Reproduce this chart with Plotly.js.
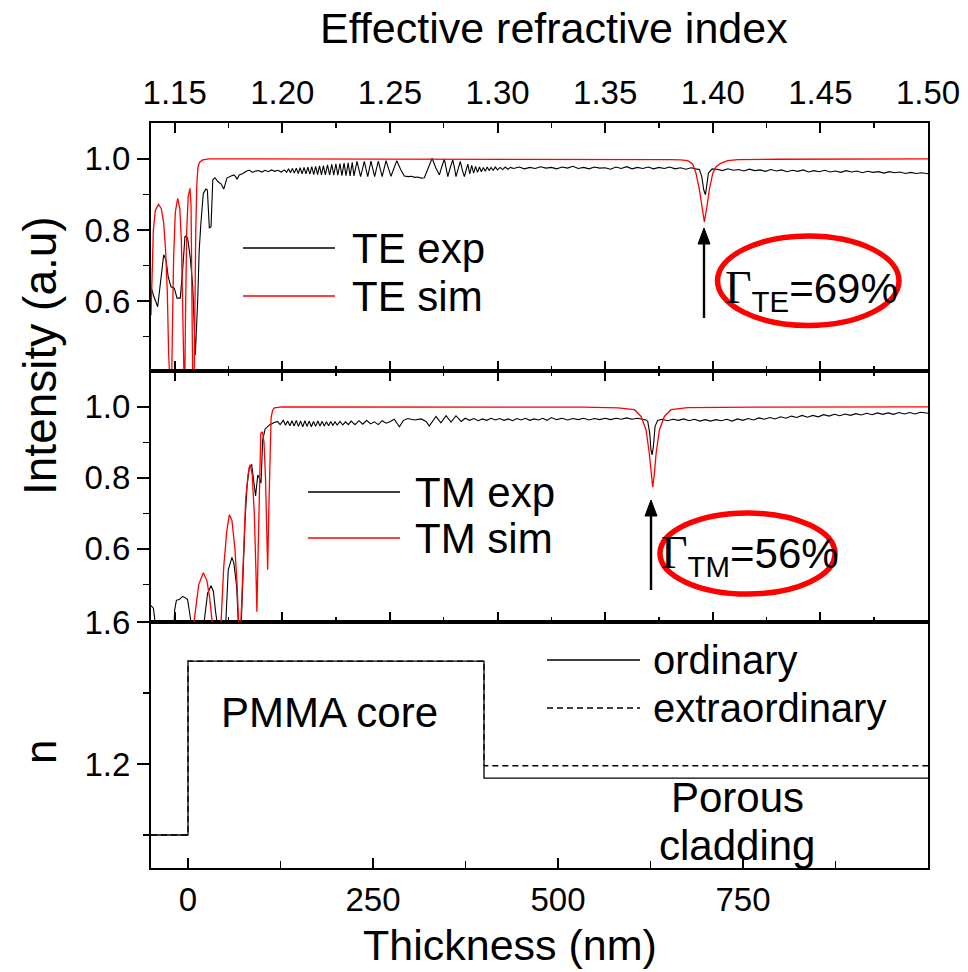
<!DOCTYPE html>
<html>
<head>
<meta charset="utf-8">
<script src="https://cdn.plot.ly/plotly-3.0.1.min.js"></script>
<style>html,body{margin:0;padding:0;background:#fff;}#chart{width:968px;height:972px;}</style>
</head>
<body>
<div id="chart"></div>
<script>
// ---------------- DATA ----------------
const neffTickVals = [1.15, 1.20, 1.25, 1.30, 1.35, 1.40, 1.45, 1.50];
const neffTickText = ['1.15', '1.20', '1.25', '1.30', '1.35', '1.40', '1.45', '1.50'];
const thickTickVals = [0, 250, 500, 750];
const thickTickText = ['0', '250', '500', '750'];
const intTickVals = [0.6, 0.8, 1.0];
const intTickText = ['0.6', '0.8', '1.0'];
const nTickVals = [1.2, 1.6];
const nTickText = ['1.2', '1.6'];

// TE experimental [n_eff, intensity]
const teExp = [
[1.1390,0.640],[1.1401,0.617],[1.1421,0.584],[1.1436,0.659],[1.1449,0.730],[1.1460,0.715],[1.1470,0.668],[1.1483,0.640],
[1.1498,0.636],[1.1511,0.608],[1.1526,0.608],[1.1537,0.687],[1.1548,0.783],[1.1560,0.777],[1.1572,0.725],[1.1584,0.640],
[1.1596,0.448],[1.1607,0.603],[1.1614,0.744],[1.1622,0.820],[1.1633,0.903],[1.1645,0.915],[1.1652,0.912],[1.1661,0.805],
[1.1669,0.810],[1.1677,0.941],[1.1687,0.947],[1.1703,0.935],[1.1715,0.930],[1.1728,0.915],[1.1743,0.946],[1.1762,0.952],
[1.1775,0.955],[1.1783,0.950],[1.1790,0.943],[1.1800,0.955],[1.1815,0.958],[1.1834,0.966],[1.1848,0.968],[1.1862,0.962],
[1.1875,0.966],[1.1890,0.967],[1.1905,0.963],[1.1920,0.968],[1.1935,0.964],[1.1950,0.969],[1.1965,0.965],[1.1980,0.968],
[1.1995,0.963],[1.2010,0.969],[1.2020,0.962],[1.2029,0.972],[1.2038,0.961],[1.2047,0.973],[1.2056,0.960],[1.2065,0.974],
[1.2074,0.959],[1.2083,0.975],[1.2092,0.958],[1.2101,0.976],[1.2110,0.958],[1.2119,0.977],[1.2128,0.957],[1.2137,0.978],
[1.2146,0.956],[1.2155,0.979],[1.2164,0.956],[1.2173,0.980],[1.2182,0.955],[1.2191,0.981],[1.2200,0.955],[1.2210,0.983],
[1.2220,0.955],[1.2230,0.985],[1.2239,0.954],[1.2249,0.986],[1.2258,0.954],[1.2268,0.987],[1.2277,0.953],[1.2287,0.988],
[1.2296,0.953],[1.2306,0.989],[1.2315,0.952],[1.2325,0.990],[1.2333,0.952],[1.2347,0.993],[1.2364,0.950],[1.2381,0.993],
[1.2397,0.950],[1.2412,0.994],[1.2429,0.950],[1.2446,0.994],[1.2464,0.950],[1.2482,0.995],[1.2505,0.951],[1.2532,0.995],
[1.2550,0.970],[1.2567,0.952],[1.2585,0.950],[1.2600,0.951],[1.2615,0.948],[1.2630,0.949],[1.2645,0.946],[1.2660,0.947],
[1.2678,0.975],[1.2696,1.002],[1.2713,0.975],[1.2730,0.955],[1.2742,0.980],[1.2753,0.999],[1.2761,0.975],[1.2769,0.950],
[1.2780,0.975],[1.2792,0.997],[1.2800,0.975],[1.2807,0.950],[1.2817,0.972],[1.2827,0.993],[1.2836,0.970],[1.2846,0.950],
[1.2854,0.968],[1.2862,0.985],[1.2871,0.958],[1.2880,0.982],[1.2889,0.960],[1.2898,0.979],[1.2907,0.962],[1.2916,0.977],
[1.2925,0.964],[1.2934,0.976],[1.2943,0.965],[1.2952,0.977],[1.2961,0.967],[1.2970,0.976],[1.2980,0.968],[1.2990,0.977],
[1.3000,0.969],[1.3012,0.976],[1.3024,0.970],[1.3036,0.977],[1.3048,0.971],[1.3060,0.976],[1.3075,0.973],[1.3100,0.977],
[1.3125,0.972],[1.3150,0.976],[1.3175,0.973],[1.3200,0.978],[1.3225,0.974],[1.3250,0.976],[1.3275,0.972],[1.3300,0.977],
[1.3325,0.974],[1.3350,0.979],[1.3375,0.973],[1.3400,0.976],[1.3425,0.972],[1.3450,0.977],[1.3475,0.974],[1.3500,0.975],
[1.3525,0.971],[1.3550,0.977],[1.3575,0.973],[1.3600,0.978],[1.3625,0.972],[1.3650,0.976],[1.3675,0.973],[1.3700,0.977],
[1.3725,0.972],[1.3750,0.976],[1.3775,0.973],[1.3800,0.977],[1.3825,0.972],[1.3850,0.975],[1.3875,0.971],[1.3900,0.975],
[1.3920,0.972],[1.3938,0.970],[1.3949,0.950],[1.3958,0.913],[1.3966,0.899],[1.3972,0.922],[1.3980,0.960],[1.3997,0.972],
[1.4020,0.971],[1.4045,0.967],[1.4070,0.972],[1.4095,0.968],[1.4120,0.970],[1.4145,0.966],[1.4170,0.971],[1.4195,0.967],
[1.4220,0.969],[1.4245,0.965],[1.4270,0.970],[1.4295,0.966],[1.4320,0.969],[1.4345,0.964],[1.4370,0.968],[1.4395,0.965],
[1.4420,0.969],[1.4445,0.963],[1.4470,0.967],[1.4495,0.964],[1.4520,0.968],[1.4545,0.963],[1.4570,0.966],[1.4595,0.962],
[1.4620,0.967],[1.4645,0.963],[1.4670,0.966],[1.4695,0.961],[1.4720,0.965],[1.4745,0.962],[1.4770,0.964],[1.4795,0.960],
[1.4820,0.964],[1.4845,0.961],[1.4870,0.963],[1.4895,0.959],[1.4920,0.962],[1.4945,0.959],[1.4970,0.961],[1.5000,0.958]
];

// TE simulation [n_eff, intensity]
const teSim = [
[1.1390,0.56],[1.1395,0.70],[1.1401,0.80],[1.1410,0.855],[1.1425,0.872],[1.1438,0.86],[1.1449,0.82],[1.1458,0.74],
[1.1466,0.62],[1.1472,0.45],[1.1477,0.30],[1.1484,0.30],[1.1489,0.50],[1.1495,0.72],[1.1503,0.85],[1.1514,0.889],
[1.1524,0.86],[1.1531,0.77],[1.1536,0.62],[1.1540,0.42],[1.1543,0.30],[1.1546,0.30],[1.1550,0.55],[1.1556,0.80],
[1.1563,0.895],[1.1571,0.917],[1.1576,0.87],[1.1579,0.70],[1.1582,0.45],[1.1585,0.30],[1.1589,0.30],[1.1593,0.55],
[1.1598,0.80],[1.1603,0.93],[1.1608,0.975],[1.1615,0.99],[1.1630,0.997],[1.1660,1.0],[1.2000,1.0],[1.2500,1.0],
[1.3000,1.0],[1.3500,0.999],[1.3800,0.998],[1.3850,0.997],[1.3884,0.995],[1.3907,0.985],[1.3922,0.960],[1.3938,0.913],
[1.3949,0.866],[1.3961,0.823],[1.3973,0.866],[1.3984,0.913],[1.4000,0.960],[1.4015,0.978],[1.4039,0.988],[1.4070,0.995],
[1.4116,0.998],[1.4300,0.999],[1.5000,1.0]
];

// TM experimental [n_eff, intensity]
const tmExp = [
[1.1390,0.440],[1.1401,0.433],[1.1406,0.410],[1.1412,0.360],[1.1490,0.360],[1.1498,0.400],[1.1500,0.428],[1.1508,0.455],
[1.1523,0.458],[1.1537,0.466],[1.1550,0.462],[1.1560,0.457],[1.1567,0.430],[1.1575,0.400],[1.1584,0.360],[1.1630,0.360],
[1.1638,0.400],[1.1653,0.475],[1.1669,0.496],[1.1680,0.480],[1.1690,0.423],[1.1697,0.400],[1.1705,0.360],[1.1732,0.360],
[1.1738,0.400],[1.1749,0.541],[1.1766,0.576],[1.1775,0.560],[1.1788,0.494],[1.1795,0.400],[1.1800,0.360],[1.1810,0.400],
[1.1816,0.503],[1.1827,0.682],[1.1836,0.775],[1.1847,0.832],[1.1858,0.837],[1.1867,0.794],[1.1876,0.749],[1.1886,0.808],
[1.1893,0.800],[1.1901,0.785],[1.1909,0.907],[1.1920,0.937],[1.1940,0.949],[1.1963,0.956],[1.1978,0.959],[1.1990,0.950],
[1.2005,0.962],[1.2015,0.948],[1.2025,0.960],[1.2035,0.947],[1.2045,0.961],[1.2055,0.946],[1.2065,0.962],[1.2075,0.945],
[1.2085,0.960],[1.2095,0.944],[1.2105,0.961],[1.2115,0.945],[1.2125,0.960],[1.2135,0.944],[1.2145,0.959],[1.2155,0.945],
[1.2165,0.960],[1.2175,0.946],[1.2185,0.959],[1.2195,0.946],[1.2205,0.958],[1.2215,0.947],[1.2225,0.959],[1.2235,0.948],
[1.2245,0.958],[1.2255,0.949],[1.2268,0.959],[1.2281,0.949],[1.2294,0.958],[1.2307,0.950],[1.2320,0.960],[1.2338,0.950],
[1.2356,0.961],[1.2374,0.951],[1.2392,0.962],[1.2410,0.952],[1.2428,0.958],[1.2446,0.950],[1.2464,0.961],[1.2482,0.954],
[1.2500,0.958],[1.2520,0.965],[1.2544,0.944],[1.2563,0.962],[1.2583,0.967],[1.2614,0.963],[1.2645,0.966],[1.2668,0.959],
[1.2683,0.946],[1.2714,0.973],[1.2737,0.955],[1.2761,0.975],[1.2784,0.957],[1.2807,0.975],[1.2831,0.959],[1.2850,0.968],
[1.2870,0.962],[1.2890,0.967],[1.2910,0.961],[1.2930,0.966],[1.2950,0.962],[1.2970,0.968],[1.2990,0.963],[1.3010,0.967],
[1.3030,0.962],[1.3050,0.966],[1.3070,0.961],[1.3090,0.967],[1.3110,0.963],[1.3130,0.968],[1.3150,0.962],[1.3170,0.966],
[1.3190,0.963],[1.3210,0.968],[1.3230,0.962],[1.3250,0.970],[1.3275,0.964],[1.3300,0.968],[1.3325,0.963],[1.3350,0.967],
[1.3375,0.964],[1.3400,0.968],[1.3425,0.963],[1.3450,0.967],[1.3475,0.964],[1.3500,0.968],[1.3525,0.964],[1.3550,0.968],
[1.3575,0.965],[1.3600,0.969],[1.3625,0.965],[1.3650,0.968],[1.3670,0.965],[1.3690,0.963],[1.3698,0.959],[1.3707,0.926],
[1.3713,0.879],[1.3718,0.865],[1.3724,0.888],[1.3732,0.945],[1.3744,0.962],[1.3765,0.965],[1.3790,0.961],[1.3815,0.965],
[1.3840,0.962],[1.3865,0.966],[1.3890,0.961],[1.3915,0.965],[1.3940,0.960],[1.3965,0.964],[1.3990,0.960],[1.4015,0.964],
[1.4040,0.961],[1.4065,0.965],[1.4090,0.960],[1.4115,0.966],[1.4140,0.962],[1.4165,0.967],[1.4190,0.963],[1.4215,0.969],
[1.4240,0.965],[1.4265,0.970],[1.4290,0.966],[1.4315,0.972],[1.4340,0.968],[1.4365,0.974],[1.4390,0.970],[1.4415,0.976],
[1.4440,0.971],[1.4465,0.976],[1.4490,0.972],[1.4515,0.978],[1.4540,0.974],[1.4565,0.979],[1.4590,0.975],[1.4615,0.980],
[1.4640,0.976],[1.4665,0.981],[1.4690,0.977],[1.4715,0.982],[1.4740,0.978],[1.4765,0.983],[1.4790,0.979],[1.4815,0.983],
[1.4840,0.979],[1.4865,0.984],[1.4890,0.980],[1.4915,0.984],[1.4940,0.980],[1.4965,0.985],[1.5000,0.982]
];

// TM simulation [n_eff, intensity]
const tmSim = [
[1.1390,0.30],[1.1585,0.30],[1.1591,0.40],[1.1600,0.45],[1.1612,0.50],[1.1633,0.533],[1.1650,0.51],[1.1663,0.46],
[1.1673,0.40],[1.1690,0.30],[1.1708,0.30],[1.1715,0.40],[1.1728,0.55],[1.1742,0.65],[1.1754,0.696],[1.1766,0.68],
[1.1780,0.60],[1.1790,0.50],[1.1797,0.40],[1.1803,0.30],[1.1808,0.40],[1.1818,0.58],[1.1830,0.74],[1.1841,0.81],
[1.1851,0.837],[1.1860,0.81],[1.1870,0.70],[1.1877,0.55],[1.1882,0.423],[1.1888,0.60],[1.1895,0.85],[1.1900,0.925],
[1.1908,0.93],[1.1915,0.90],[1.1922,0.80],[1.1928,0.65],[1.1932,0.541],[1.1937,0.70],[1.1942,0.88],[1.1948,0.97],
[1.1955,0.99],[1.1963,0.997],[1.2000,1.0],[1.3000,1.0],[1.3400,0.999],[1.3560,0.997],[1.3636,0.992],[1.3667,0.973],
[1.3690,0.935],[1.3705,0.870],[1.3713,0.813],[1.3721,0.774],[1.3729,0.813],[1.3737,0.870],[1.3752,0.935],[1.3775,0.973],
[1.3806,0.992],[1.3884,0.998],[1.4200,0.999],[1.5000,1.0]
];

// Refractive-index profile vs thickness (nm)
const thickness = [-50, 0, 0, 400, 400, 1000];
const nOrdinary = [1.0, 1.0, 1.49, 1.49, 1.16, 1.16];
const nExtraordinary = [1.0, 1.0, 1.49, 1.49, 1.195, 1.195];

// ---------------- CHART ----------------
const FONT = 'Liberation Sans, Arial, sans-serif';
const SERIF = 'Liberation Serif, Times New Roman, serif';
const RED = '#ff0000';
const W = 968, H = 972;
const L = 151, R = 928, T = 123, B = 868;
const PX = x => (x - L) / (R - L);
const PY = y => (B - y) / (B - T);

const col = (arr, i) => arr.map(p => p[i]);

const traces = [
  {x: col(teExp,0), y: col(teExp,1), xaxis: 'x2', yaxis: 'y2', mode: 'lines', name: 'TE exp',
   line: {color: '#000', width: 1.1}},
  {x: col(teSim,0), y: col(teSim,1), xaxis: 'x2', yaxis: 'y2', mode: 'lines', name: 'TE sim',
   line: {color: RED, width: 1.3}},
  {x: col(tmExp,0), y: col(tmExp,1), xaxis: 'x3', yaxis: 'y3', mode: 'lines', name: 'TM exp',
   line: {color: '#000', width: 1.1}},
  {x: col(tmSim,0), y: col(tmSim,1), xaxis: 'x3', yaxis: 'y3', mode: 'lines', name: 'TM sim',
   line: {color: RED, width: 1.3}},
  {x: thickness, y: nOrdinary, xaxis: 'x', yaxis: 'y', mode: 'lines', name: 'ordinary',
   line: {color: '#000', width: 1.3}},
  {x: thickness, y: nExtraordinary, xaxis: 'x', yaxis: 'y', mode: 'lines', name: 'extraordinary',
   line: {color: '#000', width: 1.3, dash: '6px,4px'}}
];

const tickFont = {family: FONT, size: 33, color: '#000'};
const frame = {showline: true, linecolor: '#000', linewidth: 2, mirror: true, showgrid: false, zeroline: false};

const yInt = (domain) => Object.assign({}, frame, {
  domain: domain, range: [domain[0] > 0.5 ? 0.403 : 0.394, 1.101],
  tickmode: 'array', tickvals: intTickVals, ticktext: intTickText,
  ticks: 'outside', ticklen: 12, tickwidth: 2, tickcolor: '#000', tickfont: tickFont,
  minor: {tickmode: 'array', tickvals: [0.5, 0.7, 0.9], ticks: 'outside', ticklen: 6, tickwidth: 1.5, tickcolor: '#000'}
});

const neffMinor = [1.175, 1.225, 1.275, 1.325, 1.375, 1.425, 1.475];

// arrow: shaft line + filled head (pixel positions -> paper)
const arrowShapes = (x, yTip, yTail) => [
  {type: 'line', xref: 'paper', yref: 'paper', x0: PX(x), x1: PX(x), y0: PY(yTail), y1: PY(yTip + 12),
   line: {color: '#000', width: 2.4}},
  {type: 'path', xref: 'paper', yref: 'paper',
   path: 'M' + PX(x) + ',' + PY(yTip) + ' L' + PX(x - 6) + ',' + PY(yTip + 16) + ' L' + PX(x + 6) + ',' + PY(yTip + 16) + ' Z',
   fillcolor: '#000', line: {color: '#000', width: 1}}
];

const txt = (x, y, text, size, xanchor) => ({xref: 'paper', yref: 'paper', x: PX(x), y: PY(y), text: text,
  showarrow: false, xanchor: xanchor || 'left', yanchor: 'middle', font: {family: FONT, size: size, color: '#000'}});

const layout = {
  width: W, height: H,
  margin: {l: L, r: W - R, t: T, b: H - B, pad: 0},
  paper_bgcolor: '#fff', plot_bgcolor: '#fff',
  showlegend: false,
  font: {family: FONT, color: '#000'},
  xaxis: Object.assign({}, frame, {
    anchor: 'y', domain: [0, 1], range: [-50, 1000],
    tickmode: 'array', tickvals: thickTickVals, ticktext: thickTickText,
    ticks: 'inside', ticklen: 10, tickwidth: 2, tickcolor: '#000', tickfont: tickFont,
    ticklabelstandoff: 1,
    minor: {tickmode: 'array', tickvals: [125, 375, 625, 875], ticks: 'inside', ticklen: 7, tickwidth: 1.5, tickcolor: '#000'}
  }),
  xaxis2: Object.assign({}, frame, {
    anchor: 'y2', side: 'top', domain: [0, 1], range: [1.139, 1.50], mirror: 'ticks',
    tickmode: 'array', tickvals: neffTickVals, ticktext: neffTickText,
    ticks: 'inside', ticklen: 10, tickwidth: 2, tickcolor: '#000', tickfont: tickFont,
    ticklabelstandoff: 4,
    minor: {tickmode: 'array', tickvals: neffMinor, ticks: 'inside', ticklen: 5, tickwidth: 1.5, tickcolor: '#000'}
  }),
  xaxis3: Object.assign({}, frame, {
    anchor: 'y3', side: 'top', domain: [0, 1], range: [1.139, 1.50], matches: 'x2', mirror: 'ticks',
    tickmode: 'array', tickvals: neffTickVals, showticklabels: false,
    ticks: 'inside', ticklen: 10, tickwidth: 2, tickcolor: '#000',
    minor: {tickmode: 'array', tickvals: neffMinor, ticks: 'inside', ticklen: 5, tickwidth: 1.5, tickcolor: '#000'}
  }),
  yaxis2: Object.assign(yInt([0.6671, 1]), {anchor: 'x2'}),
  yaxis3: Object.assign(yInt([0.3302, 0.6671]), {anchor: 'x3'}),
  yaxis: Object.assign({}, frame, {
    anchor: 'x', domain: [0, 0.3302], range: [0.907, 1.6],
    tickmode: 'array', tickvals: nTickVals, ticktext: nTickText,
    ticks: 'outside', ticklen: 12, tickwidth: 2, tickcolor: '#000', tickfont: tickFont,
    minor: {tickmode: 'array', tickvals: [1.0, 1.4], ticks: 'outside', ticklen: 6, tickwidth: 1.5, tickcolor: '#000'}
  }),
  shapes: [
    // legend lines
    {type: 'line', xref: 'paper', yref: 'paper', x0: PX(243), x1: PX(335), y0: PY(248), y1: PY(248), line: {color: '#000', width: 1.3}},
    {type: 'line', xref: 'paper', yref: 'paper', x0: PX(243), x1: PX(335), y0: PY(296), y1: PY(296), line: {color: RED, width: 1.3}},
    {type: 'line', xref: 'paper', yref: 'paper', x0: PX(308), x1: PX(400), y0: PY(492), y1: PY(492), line: {color: '#000', width: 1.3}},
    {type: 'line', xref: 'paper', yref: 'paper', x0: PX(308), x1: PX(400), y0: PY(538), y1: PY(538), line: {color: RED, width: 1.3}},
    {type: 'line', xref: 'paper', yref: 'paper', x0: PX(547), x1: PX(640), y0: PY(660), y1: PY(660), line: {color: '#000', width: 1.3}},
    {type: 'line', xref: 'paper', yref: 'paper', x0: PX(547), x1: PX(640), y0: PY(708), y1: PY(708), line: {color: '#000', width: 1.3, dash: '6px,4px'}},
    // ellipses
    {type: 'circle', xref: 'paper', yref: 'paper', x0: PX(717.5), x1: PX(899), y0: PY(325.5), y1: PY(236), line: {color: RED, width: 5.5}},
    {type: 'circle', xref: 'paper', yref: 'paper', x0: PX(660), x1: PX(835), y0: PY(594), y1: PY(513), line: {color: RED, width: 5.5}}
  ].concat(arrowShapes(704, 228, 318), arrowShapes(651, 500, 590)),
  annotations: [
    // axis titles
    txt(554, 28, 'Effective refractive index', 43, 'center'),
    txt(510, 945, 'Thickness (nm)', 43, 'center'),
    Object.assign(txt(40, 356, 'Intensity (a.u)', 46, 'center'), {textangle: -90}),
    Object.assign(txt(40, 752, 'n', 44, 'center'), {textangle: -90}),
    // legend texts
    txt(350, 248, 'TE exp', 42),
    txt(350, 296, 'TE sim', 42),
    txt(413, 492, 'TM exp', 42),
    txt(413, 538, 'TM sim', 42),
    txt(651, 660, 'ordinary', 40),
    txt(651, 708, 'extraordinary', 40),
    // labels
    txt(329, 712, 'PMMA core', 42, 'center'),
    txt(737, 797, 'Porous', 42, 'center'),
    txt(737, 845, 'cladding', 42, 'center'),
    txt(811, 290, '<span style="font-family:' + SERIF + '; font-size:46px">Γ</span><sub>TE</sub>=69%', 42, 'center'),
    txt(750, 555, '<span style="font-family:' + SERIF + '; font-size:46px">Γ</span><sub>TM</sub>=56%', 42, 'center')
  ]
};

Plotly.newPlot('chart', traces, layout, {displayModeBar: false, staticPlot: true});
</script>
</body>
</html>
